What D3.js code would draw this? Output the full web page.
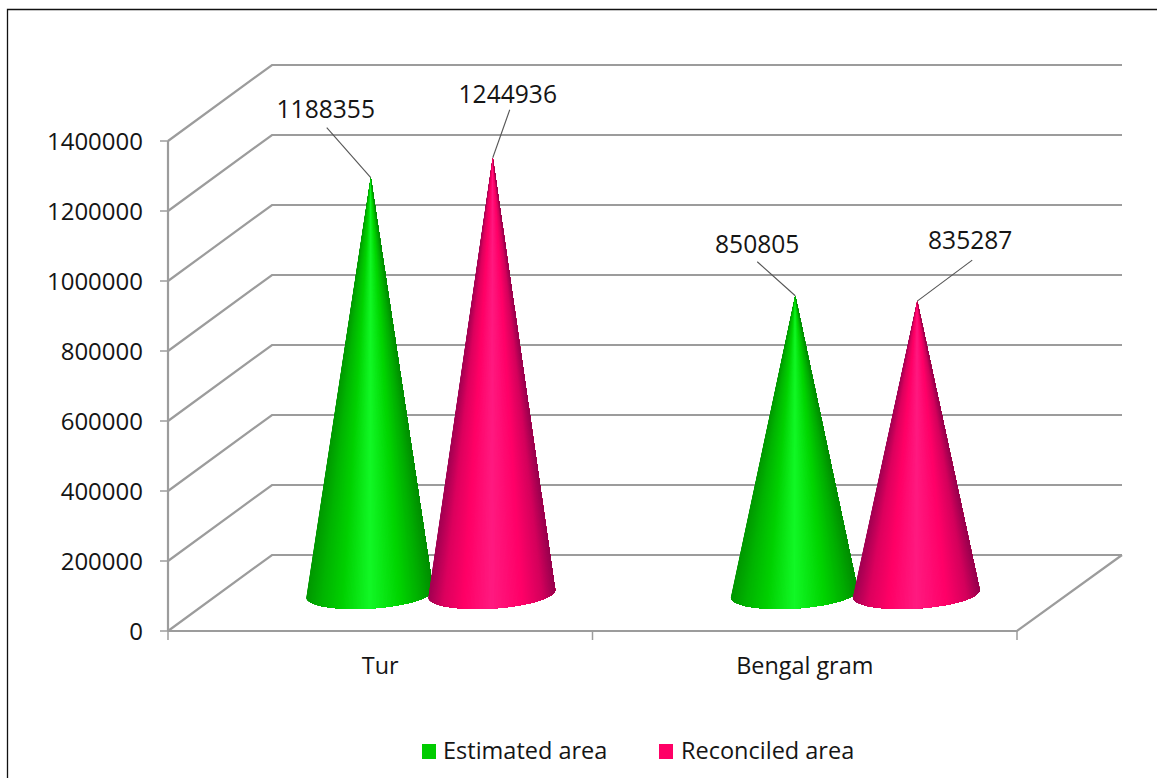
<!DOCTYPE html>
<html><head><meta charset="utf-8">
<script src="https://cdn.jsdelivr.net/npm/d3@7/dist/d3.min.js"></script>
<style>html,body{margin:0;background:#fff}svg{display:block}text{font-family:"Open Sans",sans-serif;fill:#151515}</style>
</head><body><svg id="c" width="1157" height="778"></svg>
<script>
const categories = ["Tur", "Bengal gram"];
const seriesNames = ["Estimated area", "Reconciled area"];
const estimated = [1188355, 850805];
const reconciled = [1244936, 835287];
const yTicks = [0,200000,400000,600000,800000,1000000,1200000,1400000];
const greenStops = ["#009800","#00b400","#00d000","#12f826","#00d400","#00ac00","#008e00"];
const redStops = ["#a00052","#dc005e","#ff0066","#ff1a80","#ff0068","#d4005c","#98004e"];
const stopAt = [0,0.12,0.28,0.5,0.74,0.9,1];

const svg = d3.select("#c");
const W=1157,H=778;
const dx=104, dy=-76, baseLift=37.5;
const x = d3.scaleBand().domain(categories).range([168,1017]);
const y = d3.scaleLinear().domain([0,1400000]).range([631,141]);
const seriesOffset = d3.scaleOrdinal().domain(seriesNames).range([-10.5,111.5]);

svg.append("path").attr("d",`M7.5,${H}V9.5H${W}`).attr("fill","none").attr("stroke","#111").attr("stroke-width",1.3);

const grid="#9c9c9c";
const g=svg.append("g").attr("fill","none").attr("stroke",grid).attr("stroke-width",2.2);
yTicks.forEach(v=>{
  const yy=y(v);
  g.append("path").attr("d",`M168,${yy}L${168+dx},${yy+dy}H${1017+dx+1}`);
  svg.append("line").attr("x1",160).attr("x2",168).attr("y1",yy).attr("y2",yy).attr("stroke",grid).attr("stroke-width",1.5);
  svg.append("text").attr("x",143).attr("y",yy).attr("dy","0.36em").attr("text-anchor","end").attr("font-size",24).text(v);
});
g.append("line").attr("x1",168).attr("x2",168).attr("y1",y(0)).attr("y2",y(1400000));
g.append("path").attr("d",`M168,${y(0)}H1017L${1017+dx+1},${y(0)+dy}`);
[168,x("Bengal gram"),1017].forEach(px=>svg.append("line").attr("x1",px).attr("x2",px).attr("y1",631).attr("y2",640).attr("stroke",grid).attr("stroke-width",1.5));

categories.forEach(c=>svg.append("text").attr("x",x(c)+x.bandwidth()/2).attr("y",666).attr("dy","0.36em").attr("text-anchor","middle").attr("font-size",23.4).text(c));

function ramp(stops){return d3.scaleLinear().domain(stopAt).range(stops).interpolate(d3.interpolateRgb);}

const bw=x.bandwidth();
const labelOff=[[[-44,-50,-1,0],[17,-48,-2,2]],[[-38,-34,0,0],[55,-41,-2,-2]]];
const tilt=-3.6*Math.PI/180, semi=63.5, semiB=15;
const marks=[];
categories.forEach((c,ci)=>{
  [estimated,reconciled].forEach((arr,si)=>marks.push({c,ci,si,v:arr[ci]}));
});
marks.forEach(m=>{
  const cx=x(m.c)+bw/2+seriesOffset(seriesNames[m.si]);
  const cy=631-baseLift;
  const ax=cx+1, ay=y(m.v)-baseLift;
  const col=ramp(m.si===0?greenStops:redStops);
  const G=svg.append("g");
  const N=140;
  const pt=th=>[cx+semi*Math.cos(th)*Math.cos(tilt)-semiB*Math.sin(th)*Math.sin(tilt),
                cy+semi*Math.cos(th)*Math.sin(tilt)+semiB*Math.sin(th)*Math.cos(tilt)];
  const arc=d3.range(N+1).map(i=>pt(Math.PI*(1-i/N)));
  d3.range(N).forEach(i=>{
    const t=((arc[i][0]+arc[i+1][0])/2-(cx-semi))/(2*semi);
    const color=col(Math.max(0,Math.min(1,t)));
    const pts=[[ax,ay],...arc.slice(i)];
    G.append("path").attr("d","M"+pts.join("L")+"Z").attr("fill",color);
  });
  const o=labelOff[m.ci][m.si];
  svg.append("line").attr("x1",ax).attr("y1",ay).attr("x2",ax+o[0]).attr("y2",ay+o[1]).attr("stroke","#555").attr("stroke-width",1.1);
  svg.append("text").attr("x",ax+o[0]+o[2]).attr("y",ay+o[1]-18+o[3]).attr("dy","0.36em").attr("text-anchor","middle").attr("font-size",24.6).text(m.v);
});

const colors=["#00cc00","#ff0066"];
const lg=[[422,443],[659,681]];
seriesNames.forEach((n,i)=>{
  svg.append("rect").attr("x",lg[i][0]).attr("y",744).attr("width",14).attr("height",15).attr("fill",colors[i]);
  svg.append("text").attr("x",lg[i][1]).attr("y",751).attr("dy","0.36em").attr("font-size",23.5).text(n);
});
</script></body></html>
